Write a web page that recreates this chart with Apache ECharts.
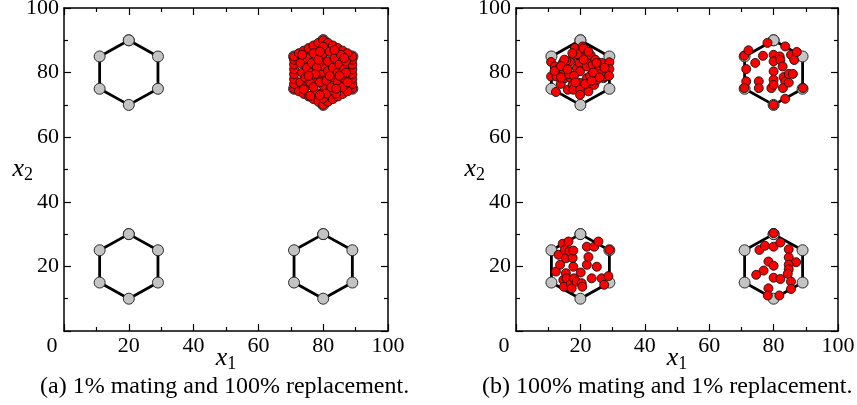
<!DOCTYPE html>
<html>
<head>
<meta charset="utf-8">
<script src="https://cdn.jsdelivr.net/npm/echarts@6/dist/echarts.min.js"></script>
<style>
  body { margin: 0; background: #fff; }
</style>
</head>
<body>
<div id="main" style="width:857px;height:405px"></div>
<script>
// hexagon outlines (same four in both panels), closed by repeating the first vertex
var hexagons = [
    [[20, 90], [29, 85], [29, 75], [20, 70], [11, 75], [11, 85], [20, 90]],
    [[80, 90], [89, 85], [89, 75], [80, 70], [71, 75], [71, 85], [80, 90]],
    [[20, 30], [29, 25], [29, 15], [20, 10], [11, 15], [11, 25], [20, 30]],
    [[80, 30], [89, 25], [89, 15], [80, 10], [71, 15], [71, 25], [80, 30]]
];

// (a) population: all packed into the top-right hexagon
var popA = [
    [71, 75], [71, 76.5], [71, 78], [71, 79.5], [71, 81], [71, 82.5], [71, 84], [71, 85],
    [89, 75], [89, 76.5], [89, 78], [89, 79.5], [89, 81], [89, 82.5], [89, 84], [89, 85],
    [72.5, 86], [74, 86.8], [75.5, 87.6], [77, 88.4], [78.5, 89.2], [80, 90],
    [81.5, 89.2], [83, 88.4], [84.5, 87.6], [86, 86.8], [87.5, 86],
    [72.5, 74.2], [74, 73.4], [75.5, 72.6], [77, 71.8], [78.5, 71], [80, 70],
    [81.5, 71], [83, 71.8], [84.5, 72.6], [86, 73.4], [87.5, 74.2],
    [80, 72], [80, 74], [80, 76], [80, 78], [80, 80], [80, 82], [80, 84], [80, 86], [80, 88],
    [73, 77], [73.5, 80], [73, 83], [74.5, 75.5], [74.5, 78.5], [75, 81.5], [75, 84.5],
    [76, 77], [76.5, 80], [76.5, 83], [77, 86], [77.5, 74], [78, 78.5], [78, 81.5],
    [78.5, 84], [77, 75.5], [79, 77], [79, 86.5], [81, 73.5], [81, 77.5], [81.5, 80.5],
    [81.5, 83.5], [82, 86.5], [82.5, 75.5], [83, 78.5], [83, 81.5], [83.5, 84.5],
    [84, 73.5], [84.5, 77], [84.5, 80], [85, 82.5], [85.5, 85.5], [86, 75.5], [86, 78.5],
    [86.5, 81], [87, 83.5], [87.5, 77], [87, 80], [76, 72.8], [83.5, 87], [79, 73],
    [82, 79], [77.5, 79.5], [85, 79], [75.5, 79], [84, 75], [86.5, 84.5], [73.5, 85.5], [74, 74.8]
];

// (b) population: spread over all four hexagons
var popB = [
    // top-left
    [10.9, 83.3], [10.9, 78.8], [12.1, 81.9], [12.6, 78.8], [12.4, 74.0], [13.5, 81.4],
    [13.9, 76.5], [14.5, 83.0], [14.7, 80.7], [15.2, 78.3], [15.8, 81.4], [16.1, 74.7],
    [16.8, 83.5], [17.0, 78.3], [17.6, 76.2], [17.8, 74.7], [18.3, 87.6], [18.3, 85.5],
    [18.9, 81.4], [19.7, 83.0], [19.9, 85.2], [19.9, 80.4], [19.9, 76.8], [19.9, 74.7],
    [19.9, 73.1], [20.7, 88.1], [21.8, 86.1], [22.0, 81.9], [22.0, 78.3], [22.5, 74.2],
    [22.8, 83.8], [23.2, 85.4], [23.8, 82.4], [24.3, 76.2], [24.6, 84.0], [25.1, 77.8],
    [25.9, 81.9], [26.3, 79.6], [26.6, 83.0], [27.2, 78.3], [27.7, 78.8], [29.0, 83.2],
    [29.0, 81.1], [28.9, 79.0], [15.6, 83.7], [12.0, 80.5], [14.0, 78.5], [16.5, 79.5],
    [18.0, 79.0], [18.5, 77.0], [19.0, 85.7], [21.0, 84.0], [21.5, 76.5], [23.0, 79.0],
    [23.5, 77.5], [24.0, 80.0], [25.0, 83.0], [26.0, 78.5], [27.5, 81.5], [21.0, 87.5],
    [22.5, 86.5], [17.5, 86.0], [15.0, 84.0], [14.0, 82.0], [16.0, 81.0],
    // top-right
    [70.9, 85.2], [72.2, 86.9], [71.5, 81.1], [71.5, 77.3], [70.9, 75.2], [74.3, 83.0],
    [76.7, 85.2], [75.4, 77.3], [75.4, 75.2], [78.1, 89.2], [79.3, 75.2], [80.0, 85.5],
    [80.0, 83.5], [80.0, 80.4], [80.0, 77.8], [80.0, 76.2], [80.0, 70.0], [81.9, 85.0],
    [82.1, 83.9], [82.8, 81.9], [83.1, 78.6], [83.6, 77.3], [82.9, 75.2], [83.6, 71.9],
    [83.6, 88.1], [84.7, 76.9], [84.7, 79.6], [86.0, 79.6], [85.4, 85.5], [86.4, 83.9],
    [87.2, 86.4], [89.1, 75.2],
    // bottom-left
    [12.4, 18.4], [13.2, 23.6], [13.7, 20.5], [14.5, 27.0], [14.7, 15.8], [15.2, 25.1],
    [15.5, 22.5], [15.5, 17.9], [15.7, 16.3], [14.9, 13.7], [16.3, 27.7], [16.6, 24.7],
    [17.0, 14.6], [17.6, 22.6], [17.8, 24.9], [17.8, 19.9], [17.3, 13.2], [18.0, 16.3],
    [18.8, 15.3], [20.1, 18.1], [20.4, 14.8], [20.6, 13.7], [22.0, 26.1], [22.0, 20.5],
    [22.5, 22.9], [23.5, 16.3], [24.3, 26.1], [25.1, 19.9], [25.6, 27.7], [26.6, 16.3],
    [27.4, 14.3], [28.7, 17.0], [29.0, 25.1],
    // bottom-right
    [80.0, 30.3], [75.6, 25.1], [77.3, 26.4], [80.0, 26.1], [82.1, 27.4], [84.7, 25.3],
    [84.7, 22.8], [87.0, 21.3], [84.7, 20.5], [84.7, 19.1], [84.4, 17.7], [78.4, 21.5],
    [80.0, 20.2], [76.9, 18.7], [74.6, 17.4], [80.0, 16.5], [82.1, 16.1], [85.4, 15.3],
    [85.4, 13.0], [78.4, 13.2], [78.2, 11.0], [81.8, 11.0]
];

var captions = ['(a) 1% mating and 100% replacement.', '(b) 100% mating and 1% replacement.'];

var serif = 'Liberation Serif';
var nameRich = {
    i: { fontFamily: serif, fontStyle: 'italic', fontSize: 26, color: '#000' },
    s: { fontFamily: serif, fontSize: 18, color: '#000', padding: [12, 0, 0, 0] }
};

function makeX(g, pos) {
    var bottom = pos === 'bottom';
    return {
        type: 'value', gridIndex: g, position: pos,
        min: 0, max: 100, interval: 20,
        name: bottom ? '{i|x}{s|1}' : '',
        nameLocation: 'middle', nameGap: 12, nameMoveOverlap: false,
        nameTextStyle: { rich: nameRich },
        axisLine: { show: true, onZero: false, lineStyle: { color: '#000', width: 1.5 } },
        axisTick: { show: true, inside: true, length: 7, lineStyle: { color: '#000', width: 1.2 } },
        minorTick: { show: true, splitNumber: 2, length: 4, lineStyle: { color: '#000', width: 1.2 } },
        splitLine: { show: false },
        axisLabel: {
            show: bottom, margin: 4, color: '#000', fontFamily: serif, fontSize: 22,
            formatter: function (v) { return v === 0 ? '{z|0}' : String(v); },
            rich: { z: { fontFamily: serif, fontSize: 22, color: '#000', padding: [0, 24, 0, 0] } }
        }
    };
}

function makeY(g, pos) {
    var left = pos === 'left';
    return {
        type: 'value', gridIndex: g, position: pos,
        min: 0, max: 100, interval: 20,
        name: left ? '{i|x}{s|2}' : '',
        nameLocation: 'middle', nameGap: 31, nameRotate: 0, nameMoveOverlap: false,
        nameTextStyle: { rich: nameRich },
        axisLine: { show: true, onZero: false, lineStyle: { color: '#000', width: 1.5 } },
        axisTick: { show: true, inside: true, length: 7, lineStyle: { color: '#000', width: 1.2 } },
        minorTick: { show: true, splitNumber: 2, length: 4, lineStyle: { color: '#000', width: 1.2 } },
        splitLine: { show: false },
        axisLabel: {
            show: left, margin: 5, color: '#000', fontFamily: serif, fontSize: 22,
            formatter: function (v) { return v === 0 ? '' : String(v); }
        }
    };
}

var series = [];
[0, 1].forEach(function (g) {
    hexagons.forEach(function (h) {
        series.push({
            type: 'line', xAxisIndex: g * 2, yAxisIndex: g * 2, data: h,
            symbol: 'circle', symbolSize: 11, showSymbol: true, z: 2,
            lineStyle: { color: '#000', width: 2.8 },
            itemStyle: { color: '#c3c3c3', borderColor: '#2a2a2a', borderWidth: 1 },
            emphasis: { disabled: true }
        });
    });
    series.push({
        type: 'scatter', xAxisIndex: g * 2, yAxisIndex: g * 2,
        data: g === 0 ? popA : popB,
        symbol: 'circle', symbolSize: 9, z: 5,
        itemStyle: { color: '#ff0000', borderColor: '#111', borderWidth: 0.9, opacity: 1 },
        emphasis: { disabled: true }
    });
});

var myChart = echarts.init(document.getElementById('main'));
var option = {
    backgroundColor: '#fff',
    animation: false,
    title: [
        { text: captions[0], left: 35, top: 370, textStyle: { fontFamily: serif, fontSize: 24, fontWeight: 'normal', color: '#000' } },
        { text: captions[1], left: 477, top: 370, textStyle: { fontFamily: serif, fontSize: 24, fontWeight: 'normal', color: '#000' } }
    ],
    grid: [
        { left: 64, top: 8, width: 324, height: 323, outerBoundsMode: 'none' },
        { left: 516, top: 8, width: 322, height: 323, outerBoundsMode: 'none' }
    ],
    xAxis: [makeX(0, 'bottom'), makeX(0, 'top'), makeX(1, 'bottom'), makeX(1, 'top')],
    yAxis: [makeY(0, 'left'), makeY(0, 'right'), makeY(1, 'left'), makeY(1, 'right')],
    series: series
};
myChart.setOption(option);
</script>
</body>
</html>
